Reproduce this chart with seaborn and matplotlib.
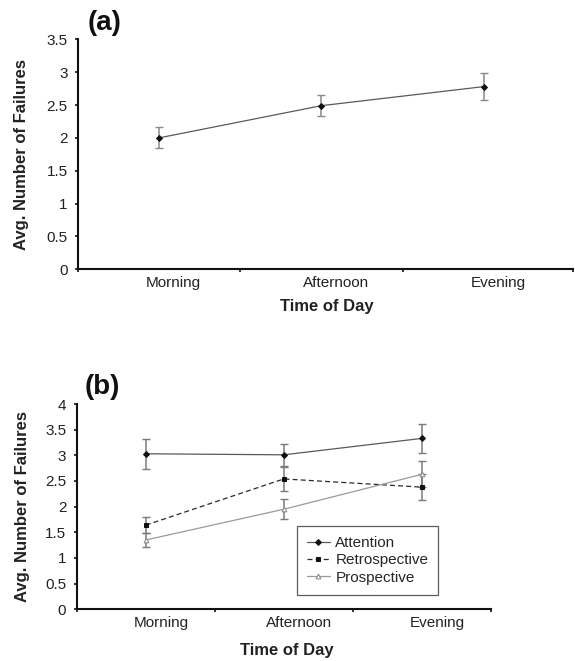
import numpy as np
import pandas as pd
import matplotlib
matplotlib.use("Agg")
import matplotlib.pyplot as plt
from matplotlib.ticker import FuncFormatter
import seaborn as sns

# ---- data ----
times = ["Morning", "Afternoon", "Evening"]
overall_mean = [2.00, 2.49, 2.78]
overall_err = [0.16, 0.16, 0.21]

series_names = ["Attention", "Retrospective", "Prospective"]
attention_mean = [3.03, 3.01, 3.33]
attention_err = [0.29, 0.22, 0.29]
retro_mean = [1.64, 2.54, 2.38]
retro_err = [0.16, 0.23, 0.25]
prosp_mean = [1.35, 1.95, 2.63]
prosp_err = [0.14, 0.20, 0.25]

ylabel = "Avg. Number of Failures"
xlabel = "Time of Day"
yticks_a = [0, 0.5, 1, 1.5, 2, 2.5, 3, 3.5]
yticks_b = [0, 0.5, 1, 1.5, 2, 2.5, 3, 3.5, 4]

sns.set_theme(style="white")
plt.rcParams["font.family"] = ["Liberation Sans", "DejaVu Sans"]

W, H = 575, 661
fig = plt.figure(figsize=(W / 100, H / 100), dpi=100)

def px_axes(l, t, r, b):
    return fig.add_axes([l / W, 1 - b / H, (r - l) / W, (b - t) / H])

ax_a = px_axes(78, 39.3, 573, 269.3)
ax_b = px_axes(76.7, 404, 491, 609.3)

pos = np.arange(len(times))
df_a = pd.DataFrame({"pos": pos, "value": overall_mean})

# ---- panel (a) ----
ax_a.errorbar(pos, overall_mean, yerr=overall_err, fmt="none", ecolor="#8a8a8a",
              elinewidth=1.1, capsize=2.6, capthick=1.0, zorder=2)
sns.lineplot(data=df_a, x="pos", y="value", ax=ax_a, color="#5a5a5a", linewidth=0.9,
             marker="D", markersize=3.0, markerfacecolor="#111111",
             markeredgecolor="#111111", zorder=3)

# ---- panel (b) ----
styles = {
    "Attention": dict(color="#5a5a5a", linestyle="-", marker="D", mfc="#111111", mec="#111111", ms=3.0),
    "Retrospective": dict(color="#2a2a2a", linestyle=(0, (4, 2.5)), marker="s", mfc="#111111", mec="#111111", ms=3.2),
    "Prospective": dict(color="#9a9a9a", linestyle="-", marker="^", mfc="white", mec="#8a8a8a", ms=3.4),
}
means = {"Attention": attention_mean, "Retrospective": retro_mean, "Prospective": prosp_mean}
errs = {"Attention": attention_err, "Retrospective": retro_err, "Prospective": prosp_err}

for name in series_names:
    ax_b.errorbar(pos, means[name], yerr=errs[name], fmt="none", ecolor="#7a7a7a",
                  elinewidth=1.1, capsize=2.6, capthick=1.0, zorder=2)
for name in series_names:
    st = styles[name]
    d = pd.DataFrame({"pos": pos, "value": means[name]})
    sns.lineplot(data=d, x="pos", y="value", ax=ax_b, color=st["color"], linewidth=0.9,
                 linestyle=st["linestyle"], marker=st["marker"], markersize=st["ms"],
                 markerfacecolor=st["mfc"], markeredgecolor=st["mec"], label=name, zorder=3)

leg = ax_b.legend(loc="upper left", bbox_to_anchor=(0.532, 0.4057), borderaxespad=0,
                  frameon=True, fancybox=False, edgecolor="#333333", fontsize=11,
                  handlelength=1.5, handletextpad=0.35, borderpad=0.65, labelspacing=0.22)
leg.get_frame().set_linewidth(0.9)

# ---- common axis styling ----
def style_axes(ax, yticks, xmax, label_off, letter, letter_y):
    ax.set_ylim(0, yticks[-1])
    ax.set_xlim(-0.5, xmax)
    ax.set_yticks(yticks)
    ax.yaxis.set_major_formatter(FuncFormatter(lambda v, p: f"{v:g}"))
    ax.set_xticks([-0.5, 0.5, 1.5, xmax])
    ax.set_xticklabels([])
    ax.set_xticks(pos + label_off, minor=True)
    ax.set_xticklabels(times, minor=True)
    ax.tick_params(axis="x", which="major", direction="out", length=2.5, width=1.2,
                   color="#111111", bottom=True)
    ax.tick_params(axis="x", which="minor", length=0, pad=4.5, labelsize=11,
                   labelcolor="#222222", bottom=True)
    ax.tick_params(axis="y", direction="out", length=2.5, width=1.2, color="#111111",
                   pad=5, labelsize=11, labelcolor="#222222", left=True)
    for s in ["top", "right"]:
        ax.spines[s].set_visible(False)
    for s in ["left", "bottom"]:
        ax.spines[s].set_color("#111111")
        ax.spines[s].set_linewidth(1.5)
    ax.set_xlabel("")
    ax.set_ylabel("")
    ax.grid(False)
    ax.text(0.02, letter_y, letter, transform=ax.transAxes, fontsize=20,
            fontweight="bold", ha="left", va="center", color="#111111")

style_axes(ax_a, yticks_a, 2.55, 0.09, "(a)", 1.071)
style_axes(ax_b, yticks_b, 2.5, 0.11, "(b)", 1.083)

# axis titles
fig.text(22 / W, 1 - 155 / H, ylabel, rotation=90, ha="center", va="center",
         fontsize=12, fontweight="bold", color="#222222")
fig.text(22.5 / W, 1 - 507 / H, ylabel, rotation=90, ha="center", va="center",
         fontsize=12, fontweight="bold", color="#222222")
fig.text(326.5 / W, 1 - 307 / H, xlabel, ha="center", va="center",
         fontsize=12, fontweight="bold", color="#222222")
fig.text(287 / W, 1 - 650.5 / H, xlabel, ha="center", va="center",
         fontsize=12, fontweight="bold", color="#222222")

fig.savefig("out.png", dpi=100, facecolor="white")
